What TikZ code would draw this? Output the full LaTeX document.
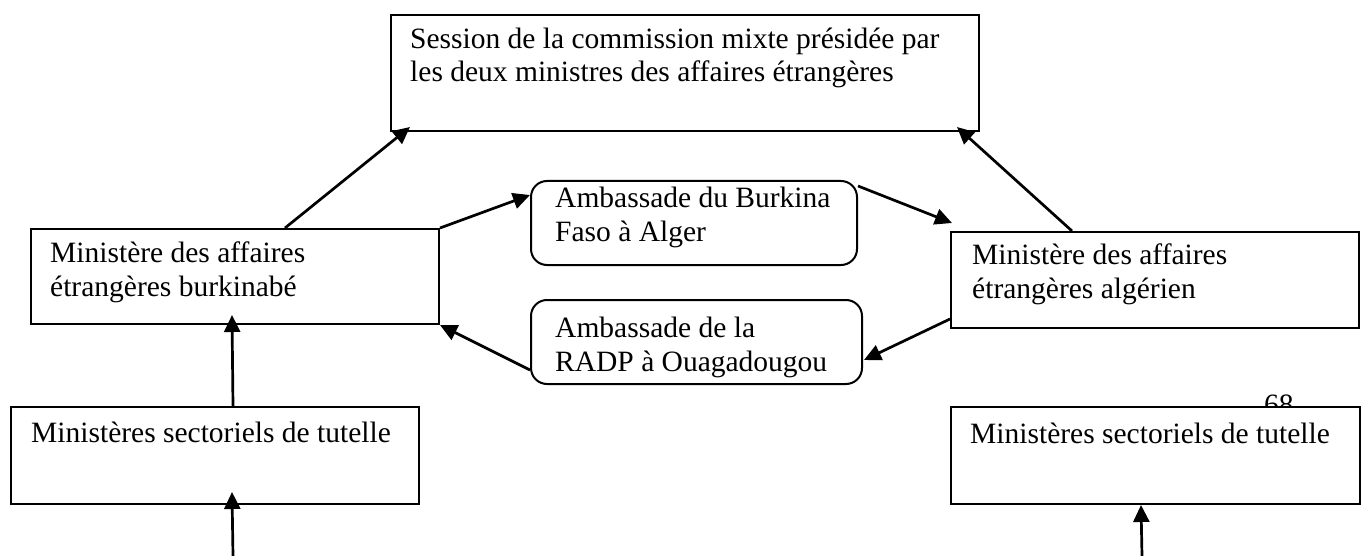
\documentclass[tikz,border=0pt]{standalone}
\usepackage{fontspec}
\setmainfont{Liberation Serif}
\usetikzlibrary{arrows.meta,calc}
\tikzset{
  box/.style={draw=black, line width=2pt, fill=white, anchor=north west, inner sep=0pt},
  rbox/.style={box, rounded corners=16pt},
  txt/.style={anchor=base west, inner sep=0pt, align=left, font=\fontsize{29.5}{33.5}\selectfont},
  conn/.style={line width=2.7pt, -{Triangle[length=17pt,width=16pt]}},
}
\begin{document}
\begin{tikzpicture}[x=1pt,y=-1pt]
\useasboundingbox (0,0) rectangle (1365,556);
% page number partly hidden behind the box
\node[txt] (pnum) at (1264,414) {68};
% boxes
\node[box, minimum width=588pt, minimum height=116pt] (top) at (390,14) {};
\node[box, minimum width=408pt, minimum height=95pt] (lm) at (30,228) {};
\node[box, minimum width=408pt, minimum height=96pt] (rm) at (950,231) {};
\node[rbox, minimum width=326pt, minimum height=84pt] (a1) at (530,180) {};
\node[rbox, minimum width=331pt, minimum height=84pt] (a2) at (530,299) {};
\node[box, minimum width=408pt, minimum height=97pt] (lb) at (10,406) {};
\node[box, minimum width=409pt, minimum height=97pt] (rb) at (950,406) {};
% texts (base anchor = baseline of the last line)
\node[txt] (ttop) at ($(top.north west)+(20,68)$) {Session de la commission mixte présidée par\\les deux ministres des affaires étrangères};
\node[txt] (tlm) at ($(lm.north west)+(20,68)$) {Ministère des affaires\\étrangères burkinabé};
\node[txt] (trm) at ($(rm.north west)+(22,67)$) {Ministère des affaires\\étrangères algérien};
\node[txt] (ta1) at ($(a1.north west)+(25,61)$) {Ambassade du Burkina\\Faso à Alger};
\node[txt] (ta2) at ($(a2.north west)+(25,72)$) {Ambassade de la\\RADP à Ouagadougou};
\node[txt] (tlb) at ($(lb.north west)+(21,36)$) {Ministères sectoriels de tutelle};
\node[txt] (trb) at ($(rb.north west)+(20,37)$) {Ministères sectoriels de tutelle};
% free ends
\coordinate (lbin) at (233,556);
\coordinate (rbin) at (1142,556);
% connectors
\draw[conn] ($(lm.north west)+(255,0)$) -- ($(top.south west)+(20,-5)$);
\draw[conn] ($(rm.north west)+(122,0)$) -- ($(top.south east)+(-23,-5)$);
\draw[conn] (lm.north east) -- ($(a1.north west)+(0,15)$);
\draw[conn] ($(a1.north east)+(0,6)$) -- ($(rm.north west)+(2,-8)$);
\draw[conn] ($(rm.south west)+(0,-10)$) -- ($(a2.north east)+(1,61)$);
\draw[conn] ($(a2.south west)+(0,-15)$) -- (lm.south east);
\draw[conn] ($(lb.north west)+(223,0)$) -- ($(lm.south west)+(202,-10)$);
\draw[conn] (lbin) -- ($(lb.south west)+(222,-13)$);
\draw[conn] (rbin) -- ($(rb.south west)+(191,0)$);
\end{tikzpicture}
\end{document}
